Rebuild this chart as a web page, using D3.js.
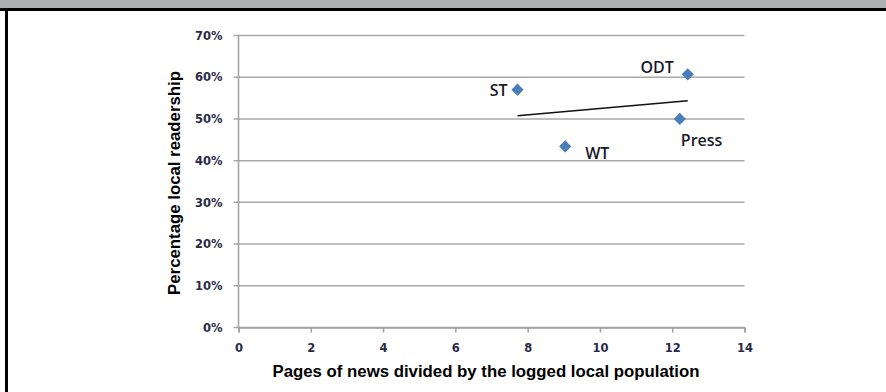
<!DOCTYPE html>
<html>
<head>
<meta charset="utf-8">
<script src="https://cdn.jsdelivr.net/npm/d3@7"></script>
<style>
  html, body { margin: 0; padding: 0; background: #fff; }
  svg { display: block; }
</style>
</head>
<body>
<svg id="chart" width="886" height="392"></svg>
<script>
// Newspapers: pages of news per logged population vs. local readership share
const papers = ["ST", "WT", "Press", "ODT"];
const pagesPerLogPop = [7.72, 9.04, 12.21, 12.43];
const localReadership = [0.570, 0.434, 0.500, 0.607];
const xTicks = [0, 2, 4, 6, 8, 10, 12, 14];
const yTicks = [0, 0.1, 0.2, 0.3, 0.4, 0.5, 0.6, 0.7];

const svg = d3.select("#chart");

// frame: grey strip along the top, black rules top and left
svg.append("rect").attr("x", 0).attr("y", 0).attr("width", 886).attr("height", 9).attr("fill", "#aeafb1");
svg.append("rect").attr("x", 0).attr("y", 8).attr("width", 886).attr("height", 3).attr("fill", "#000");
svg.append("rect").attr("x", 5).attr("y", 8).attr("width", 3).attr("height", 384).attr("fill", "#000");

const x = d3.scaleLinear().domain([0, 14]).range([238.5, 744.5]);
const y = d3.scaleLinear().domain([0, 0.7]).range([327.5, 35.5]);

const tickFont = "DejaVu Sans, Verdana, sans-serif";

// horizontal gridlines (extend slightly left as tick marks)
svg.append("g")
  .selectAll("line")
  .data(yTicks)
  .join("line")
  .attr("x1", x(0) - 5).attr("x2", x(14))
  .attr("y1", d => y(d)).attr("y2", d => y(d))
  .attr("stroke", "#a8a8a8").attr("stroke-width", 1.5);

// y axis line
svg.append("line")
  .attr("x1", x(0)).attr("x2", x(0))
  .attr("y1", y(0.7)).attr("y2", y(0) + 0.75)
  .attr("stroke", "#a0a0a0").attr("stroke-width", 1.5);

// x axis with downward ticks
const xAxis = d3.axisBottom(x).tickValues(xTicks).tickSize(5).tickPadding(11).tickFormat(d3.format("d"));
const gx = svg.append("g").attr("transform", `translate(0,${y(0)})`).call(xAxis);
gx.select(".domain").attr("stroke", "#a0a0a0").attr("stroke-width", 1.5);
gx.selectAll(".tick line").attr("stroke", "#a0a0a0").attr("stroke-width", 1.5);
gx.selectAll("text")
  .attr("fill", "#2a2a48")
  .style("font-family", tickFont)
  .style("font-weight", "bold")
  .style("font-size", "11.5px");

// y tick labels
const gy = svg.append("g").attr("transform", `translate(${x(0)},0)`)
  .call(d3.axisLeft(y).tickValues(yTicks).tickSize(0).tickPadding(16).tickFormat(d3.format(".0%")));
gy.select(".domain").remove();
gy.selectAll("text")
  .attr("fill", "#2a2a48")
  .style("font-family", tickFont)
  .style("font-weight", "bold")
  .style("font-size", "11.5px");

// least-squares trend line across the range of the data
const mx = d3.mean(pagesPerLogPop), my = d3.mean(localReadership);
let sxy = 0, sxx = 0;
pagesPerLogPop.forEach((v, i) => {
  sxy += (v - mx) * (localReadership[i] - my);
  sxx += (v - mx) * (v - mx);
});
const slope = sxy / sxx, intercept = my - slope * mx;
const [xmin, xmax] = d3.extent(pagesPerLogPop);
svg.append("line")
  .attr("x1", x(xmin)).attr("y1", y(intercept + slope * xmin))
  .attr("x2", x(xmax)).attr("y2", y(intercept + slope * xmax))
  .attr("stroke", "#111").attr("stroke-width", 1.5);

// diamond markers
const diamond = d3.symbol().type(d3.symbolDiamond2).size(95);
svg.append("g")
  .selectAll("path")
  .data(papers)
  .join("path")
  .attr("d", diamond)
  .attr("transform", (d, i) => `translate(${x(pagesPerLogPop[i])},${y(localReadership[i])})`)
  .attr("fill", "#4a7ebb");

// point labels
const labelOffsets = {
  "ST":    { dx: -10, dy: 6,  anchor: "end" },
  "WT":    { dx: 20,  dy: 13, anchor: "start" },
  "Press": { dx: 1,   dy: 27, anchor: "start" },
  "ODT":   { dx: -14, dy: -1, anchor: "end" }
};
svg.append("g")
  .selectAll("text")
  .data(papers)
  .join("text")
  .attr("x", (d, i) => x(pagesPerLogPop[i]) + labelOffsets[d].dx)
  .attr("y", (d, i) => y(localReadership[i]) + labelOffsets[d].dy)
  .attr("text-anchor", d => labelOffsets[d].anchor)
  .attr("fill", "#1a1a2a")
  .style("font-family", "Open Sans, sans-serif")
  .style("font-weight", 600)
  .style("font-size", "16px")
  .text(d => d);

// axis titles
svg.append("text")
  .attr("x", 486).attr("y", 377)
  .attr("text-anchor", "middle")
  .style("font-family", "Liberation Sans, Arial, sans-serif")
  .style("font-weight", "bold")
  .style("font-size", "16.8px")
  .attr("fill", "#000")
  .text("Pages of news divided by the logged local population");

svg.append("text")
  .attr("transform", "translate(180,183) rotate(-90)")
  .attr("text-anchor", "middle")
  .style("font-family", "Liberation Sans, Arial, sans-serif")
  .style("font-weight", "bold")
  .style("font-size", "16.8px")
  .attr("fill", "#000")
  .text("Percentage local readership");
</script>
</body>
</html>
